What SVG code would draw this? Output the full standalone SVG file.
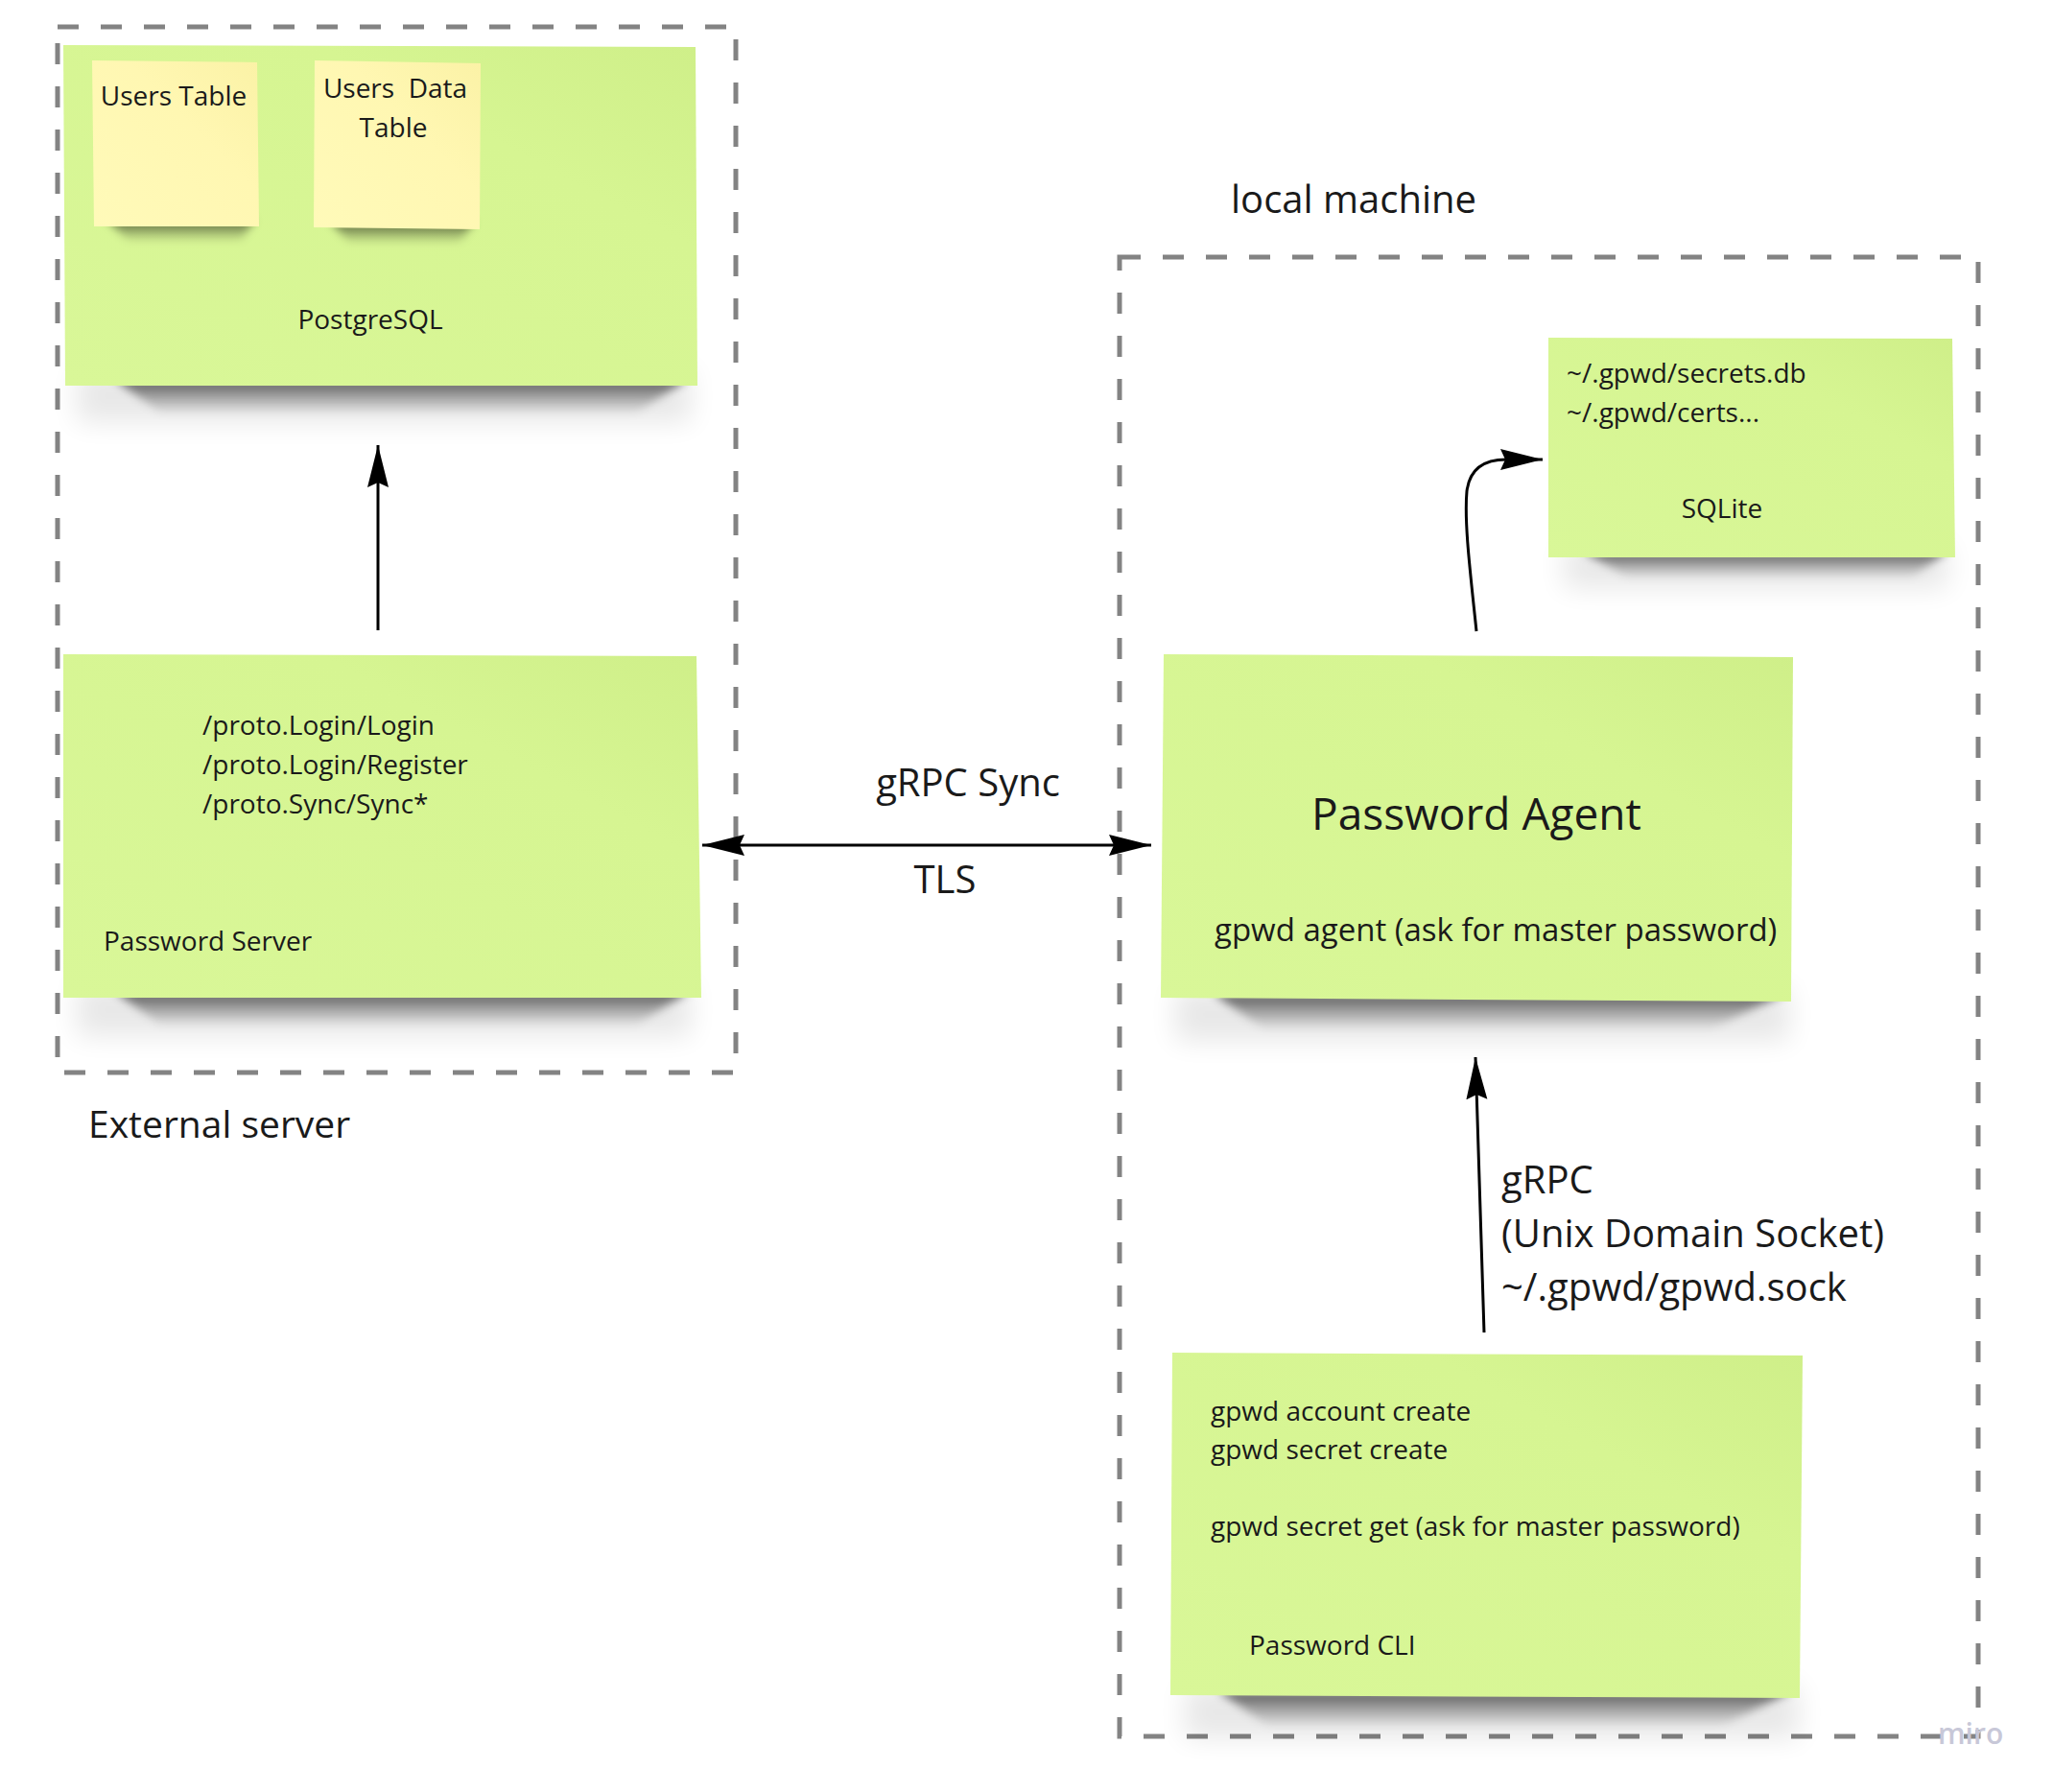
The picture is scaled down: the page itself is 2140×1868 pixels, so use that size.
<svg xmlns="http://www.w3.org/2000/svg" width="2140" height="1868" viewBox="0 0 2140 1868">
<defs>
<style>
text{font-family:"Open Sans","Liberation Sans",sans-serif;fill:#1a1a1a}
.s{font-size:28px}
.l{font-size:40px}
.frame{fill:none;stroke:#838383;stroke-width:5;stroke-dasharray:22 23}
.green{fill:url(#gg)}
.yellow{fill:url(#gy)}
.shadow{fill:url(#gs);filter:url(#blur)}
.halo{fill:#000;opacity:0.09;filter:url(#blur2)}
.conn{fill:none;stroke:#000;stroke-width:3}
</style>
<linearGradient id="gg" x1="1" y1="0" x2="0" y2="1">
<stop offset="0" stop-color="#cfef89"/>
<stop offset="0.3" stop-color="#d6f592"/>
<stop offset="1" stop-color="#d9f798"/>
</linearGradient>
<linearGradient id="gy" x1="1" y1="0" x2="0" y2="1">
<stop offset="0" stop-color="#fbf2a6"/>
<stop offset="0.4" stop-color="#fff7b2"/>
<stop offset="1" stop-color="#fffab9"/>
</linearGradient>
<linearGradient id="gs" x1="0" y1="0" x2="0" y2="1">
<stop offset="0" stop-color="#000" stop-opacity="0.65"/>
<stop offset="0.4" stop-color="#000" stop-opacity="0.35"/>
<stop offset="1" stop-color="#000" stop-opacity="0"/>
</linearGradient>
<filter id="blur" x="-20%" y="-100%" width="140%" height="300%">
<feGaussianBlur stdDeviation="5"/>
</filter>
<filter id="blur2" x="-20%" y="-100%" width="140%" height="300%">
<feGaussianBlur stdDeviation="14"/>
</filter>
<marker id="ah" markerUnits="userSpaceOnUse" markerWidth="46" markerHeight="24" refX="44" refY="11" orient="auto-start-reverse" viewBox="0 0 46 24">
<path d="M0,0 L44,11 L0,22 L5,11 z" fill="#000"/>
</marker>
</defs>

<g id="external-server">
<rect class="frame" x="60" y="28" width="707" height="1090"/>
<text class="l" x="92" y="1186" style="font-size:39px">External server</text>
</g>

<g id="local-machine">
<rect class="frame" x="1167" y="268" width="895" height="1542"/>
<text class="l" x="1283" y="222">local machine</text>
</g>

<g id="postgresql">
<rect class="halo" x="80" y="385" width="640" height="55"/>
<path class="shadow" d="M120,396 L716,396 L660,432 L170,432 z"/>
<path class="green" d="M66,47 L725,49 L727,402 L68,402 z"/>
<text class="s" x="386" y="343" text-anchor="middle">PostgreSQL</text>
</g>

<g id="users-table">
<path class="shadow" d="M112,229 L265,229 L250,252 L135,252 z"/>
<path class="yellow" d="M96,63 L268,65 L270,236 L98,236 z"/>
<text class="s" x="181" y="110" text-anchor="middle">Users Table</text>
</g>

<g id="users-data-table">
<path class="shadow" d="M345,231 L494,231 L478,254 L365,254 z"/>
<path class="yellow" d="M328,63 L501,66 L500,239 L327,237 z"/>
<text class="s" x="412" y="102" text-anchor="middle" xml:space="preserve">Users  Data</text>
<text class="s" x="410" y="143" text-anchor="middle">Table</text>
</g>

<g id="password-server">
<rect class="halo" x="80" y="1025" width="640" height="55"/>
<path class="shadow" d="M120,1034 L718,1034 L660,1070 L170,1070 z"/>
<path class="green" d="M66,682 L726,684 L731,1040 L66,1040 z"/>
<text class="s" x="211" y="766">/proto.Login/Login</text>
<text class="s" x="211" y="807">/proto.Login/Register</text>
<text class="s" x="211" y="848">/proto.Sync/Sync*</text>
<text class="s" x="108" y="991">Password Server</text>
</g>

<g id="sqlite">
<rect class="halo" x="1630" y="568" width="400" height="45"/>
<path class="shadow" d="M1650,575 L2030,575 L1990,603 L1700,603 z"/>
<path class="green" d="M1614,352 L2035,353 L2038,581 L1614,581 z"/>
<text class="s" x="1633" y="399">~/.gpwd/secrets.db</text>
<text class="s" x="1633" y="440">~/.gpwd/certs...</text>
<text class="s" x="1795" y="540" text-anchor="middle">SQLite</text>
</g>

<g id="password-agent">
<rect class="halo" x="1225" y="1030" width="640" height="55"/>
<path class="shadow" d="M1265,1036 L1860,1036 L1780,1074 L1320,1074 z"/>
<path class="green" d="M1213,682 L1869,685 L1867,1044 L1210,1040 z"/>
<text x="1539" y="865" text-anchor="middle" style="font-size:46px">Password Agent</text>
<text x="1266" y="981" style="font-size:33px">gpwd agent (ask for master password)</text>
</g>

<g id="password-cli">
<rect class="halo" x="1235" y="1757" width="640" height="55"/>
<path class="shadow" d="M1270,1763 L1868,1763 L1790,1801 L1325,1801 z"/>
<path class="green" d="M1222,1410 L1879,1413 L1876,1770 L1220,1767 z"/>
<text class="s" x="1262" y="1481">gpwd account create</text>
<text class="s" x="1262" y="1521">gpwd secret create</text>
<text class="s" x="1262" y="1601">gpwd secret get (ask for master password)</text>
<text class="s" x="1302" y="1725">Password CLI</text>
</g>

<g id="connectors">
<path class="conn" d="M394,657 L394,464" marker-end="url(#ah)"/>
<path class="conn" d="M732,881 L1200,881" marker-start="url(#ah)" marker-end="url(#ah)"/>
<path class="conn" d="M1539,658 C1533,600 1526,545 1529,512 C1532,488 1548,479 1570,479 L1608,479" marker-end="url(#ah)"/>
<path class="conn" d="M1547,1389 L1538,1102" marker-end="url(#ah)"/>
<text class="l" x="1009" y="830" text-anchor="middle">gRPC Sync</text>
<text class="l" x="985" y="931" text-anchor="middle">TLS</text>
<text class="l" x="1565" y="1244">gRPC</text>
<text class="l" x="1565" y="1300">(Unix Domain Socket)</text>
<text class="l" x="1565" y="1356">~/.gpwd/gpwd.sock</text>
</g>

<text x="2020" y="1818" style="font-size:30px;fill:#c8c8d8;font-weight:600">miro</text>
</svg>
